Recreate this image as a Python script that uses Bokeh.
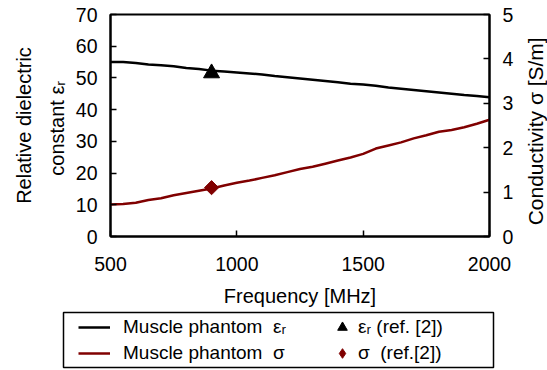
import math
from bokeh.plotting import figure
from bokeh.layouts import row
from bokeh.models import Range1d, LinearAxis, Legend, LegendItem, FixedTicker
from bokeh.embed import file_html
from bokeh.resources import INLINE

# ---------------- data ----------------
freq = [500, 550, 600, 650, 700, 750, 800, 850, 900, 950, 1000, 1050, 1100, 1150,
        1200, 1250, 1300, 1350, 1400, 1450, 1500, 1550, 1600, 1650, 1700, 1750,
        1800, 1850, 1900, 1950, 2000]
eps_r = [55.0, 55.0, 54.7, 54.2, 54.0, 53.7, 53.1, 52.8, 52.3, 52.0, 51.7, 51.4,
         51.1, 50.6, 50.2, 49.8, 49.4, 49.0, 48.6, 48.2, 47.9, 47.5, 47.0, 46.6,
         46.2, 45.8, 45.4, 45.0, 44.6, 44.3, 43.9]
sigma = [0.72, 0.73, 0.76, 0.82, 0.86, 0.93, 0.98, 1.03, 1.08, 1.15, 1.21, 1.26,
         1.32, 1.38, 1.45, 1.52, 1.57, 1.64, 1.71, 1.78, 1.86, 1.98, 2.05, 2.12,
         2.21, 2.28, 2.36, 2.40, 2.46, 2.54, 2.63]
ref_freq = [900]
ref_eps = [51.5]
ref_sigma = [1.1]

x_ticks = [500, 1000, 1500, 2000]
eps_ticks = [0, 10, 20, 30, 40, 50, 60, 70]
sig_ticks = [0, 1, 2, 3, 4, 5]

x_title = "Frequency [MHz]"
eps_title = "Relative dielectric\nconstant  \u03b5\u1d63"
sig_title = "Conductivity  \u03c3  [S/m]"
legend_labels = ["Muscle phantom  \u03b5\u1d63", "Muscle phantom  \u03c3",
                 "\u03b5\u1d63 (ref. [2])", "\u03c3  (ref.[2])"]

# ---------------- style / layout ----------------
FONT = "Liberation Sans"
RED = "#800000"
TICK_FS = "19.5px"
TITLE_FS = "20px"
LEG_FS = "19px"
FRAME_W, FRAME_H = 379, 222
TOP, BOTTOM = 14, 74

p = figure(frame_width=FRAME_W, frame_height=FRAME_H, output_backend="svg",
           toolbar_location=None,
           x_range=Range1d(500, 2000), y_range=Range1d(0, 70),
           min_border_left=110, min_border_right=26, min_border_top=TOP,
           min_border_bottom=BOTTOM)
p.extra_y_ranges = {"sigma": Range1d(0, 5)}
p.grid.visible = False
p.outline_line_color = "black"
p.outline_line_width = 2
p.background_fill_color = "white"
p.border_fill_color = "white"

def style_axis(ax, standoff):
    ax.axis_line_width = 2
    ax.axis_line_color = "black"
    ax.major_tick_in = 6
    ax.major_tick_out = 0
    ax.minor_tick_in = 0
    ax.minor_tick_out = 0
    ax.major_tick_line_width = 1.5
    ax.major_label_text_font = FONT
    ax.major_label_text_font_size = TICK_FS
    ax.major_label_text_color = "black"
    ax.major_label_standoff = standoff
    ax.axis_label_text_font = FONT
    ax.axis_label_text_font_size = TITLE_FS
    ax.axis_label_text_font_style = "normal"
    ax.axis_label_text_color = "black"

xa = p.xaxis[0]
style_axis(xa, 20)
xa.ticker = FixedTicker(ticks=x_ticks)
xa.axis_label = x_title
xa.axis_label_standoff = 11

ya = p.yaxis[0]
style_axis(ya, 13)
ya.ticker = FixedTicker(ticks=eps_ticks)
ya.axis_label = eps_title
ya.axis_label_text_line_height = 1.5
ya.axis_label_standoff = 5

ra = LinearAxis(y_range_name="sigma", ticker=FixedTicker(ticks=sig_ticks))
style_axis(ra, 13)
p.add_layout(ra, "right")

# ---------------- series ----------------
p.line(freq, eps_r, line_color="black", line_width=2.5)
p.line(freq, sigma, line_color=RED, line_width=2.5, y_range_name="sigma")
p.scatter(ref_freq, ref_eps, marker="triangle", size=16, color="black")
p.scatter(ref_freq, ref_sigma, marker="square", size=10, angle=math.pi / 4,
          color=RED, y_range_name="sigma")

# ---------------- right-hand title (reads bottom to top) ----------------
r = figure(width=31, frame_height=FRAME_H, output_backend="svg",
           toolbar_location=None, x_range=Range1d(0, 1), y_range=Range1d(0, 5),
           x_axis_type=None, min_border_left=30, min_border_right=0,
           min_border_top=TOP, min_border_bottom=BOTTOM)
r.grid.visible = False
r.outline_line_color = None
r.background_fill_color = "white"
r.border_fill_color = "white"
rt = r.yaxis[0]
rt.ticker = FixedTicker(ticks=[])
rt.axis_line_color = None
rt.major_tick_line_color = None
rt.minor_tick_line_color = None
rt.axis_label = sig_title
rt.axis_label_text_font = FONT
rt.axis_label_text_font_size = "21px"
rt.axis_label_text_font_style = "normal"
rt.axis_label_text_color = "black"
rt.axis_label_standoff = 0

# ---------------- legend strip ----------------
q = figure(width=546, height=59, output_backend="svg", toolbar_location=None,
           x_range=Range1d(0, 1), y_range=Range1d(0, 1),
           x_axis_type=None, y_axis_type=None,
           min_border_left=63, min_border_right=53, min_border_top=2,
           min_border_bottom=2)
q.grid.visible = False
q.outline_line_color = "black"
q.outline_line_width = 1.5
q.background_fill_color = "white"
q.border_fill_color = "white"
g_eps = q.line(freq, eps_r, line_color="black", line_width=2.5)
g_sig = q.line(freq, sigma, line_color=RED, line_width=2.5)
g_reps = q.scatter(ref_freq, ref_eps, marker="triangle", size=17, color="black")
g_rsig = q.scatter(ref_freq, ref_sigma, marker="diamond", size=18, color=RED)

common = dict(orientation="vertical", label_text_font=FONT,
              label_text_font_size=LEG_FS, label_text_color="black",
              label_height=20, padding=0, margin=0, border_line_color=None,
              background_fill_alpha=0.0)
leg1 = Legend(items=[LegendItem(label=legend_labels[0], renderers=[g_eps]),
                     LegendItem(label=legend_labels[1], renderers=[g_sig])],
              location=(15, 3), glyph_width=32, glyph_height=20, spacing=4,
              label_standoff=13, **common)
leg2 = Legend(items=[LegendItem(label=legend_labels[2], renderers=[g_reps]),
                     LegendItem(label=legend_labels[3], renderers=[g_rsig])],
              location=(267, 2), glyph_width=24, glyph_height=24, spacing=2,
              label_standoff=4, **common)
q.add_layout(leg1)
q.add_layout(leg2)

top = row(p, r, spacing=0)
open("out.html", "w").write(file_html([top, q], INLINE))
